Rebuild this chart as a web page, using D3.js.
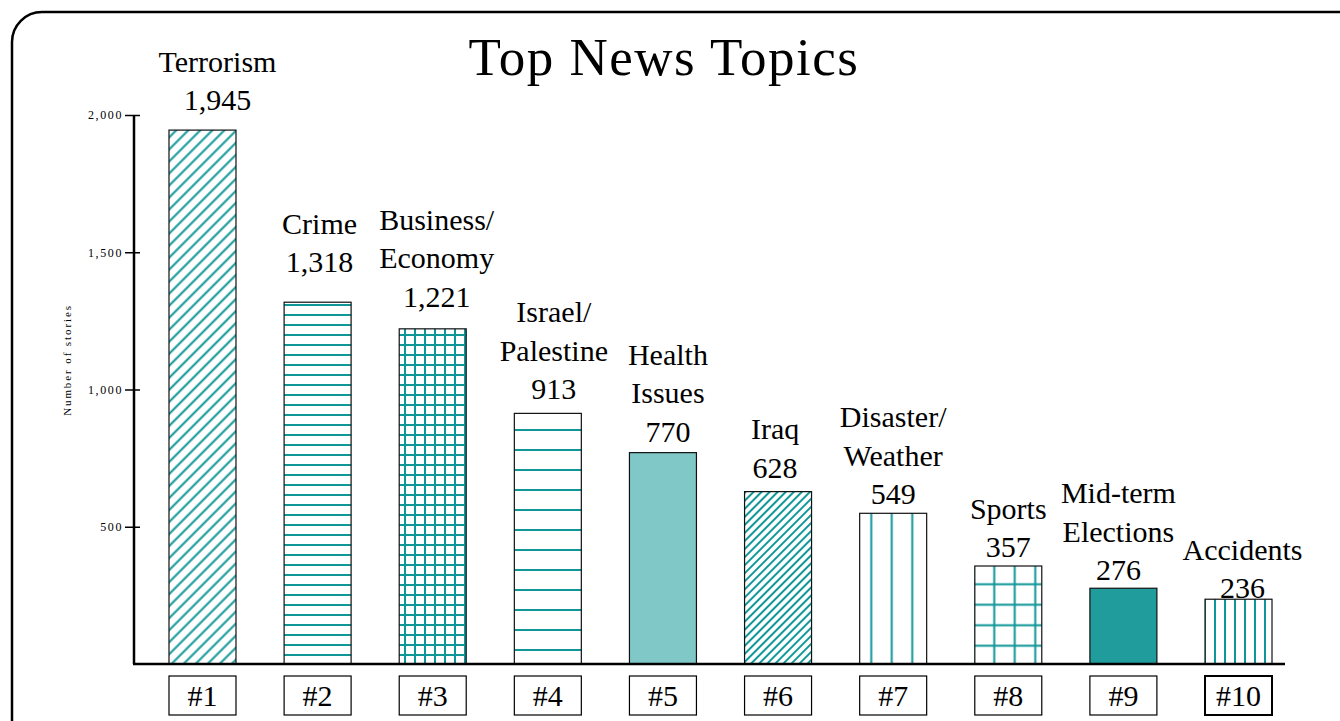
<!DOCTYPE html>
<html lang="en">
<head>
  <meta charset="UTF-8">
  <title>Top News Topics</title>
  <script src="https://d3js.org/d3.v7.min.js"></script>
  <style>
    html, body {
      margin: 0;
      padding: 0;
      overflow: hidden;
      background: #fff;
    }
    svg {
      display: block;
      font-family: "Liberation Serif", "Times New Roman", serif;
    }
  </style>
</head>
<body>
<svg width="1340" height="721"></svg>

<script>
  // data
  const ranks = ["#1", "#2", "#3", "#4", "#5", "#6", "#7", "#8", "#9", "#10"];
  const topics = [
    ["Terrorism"],
    ["Crime"],
    ["Business/", "Economy"],
    ["Israel/", "Palestine"],
    ["Health", "Issues"],
    ["Iraq"],
    ["Disaster/", "Weather"],
    ["Sports"],
    ["Mid-term", "Elections"],
    ["Accidents"]
  ];
  const stories = [1945, 1318, 1221, 913, 770, 628, 549, 357, 276, 236];
  const yTicks = [500, 1000, 1500, 2000];

  // look of each bar and where its label sits (layout, not data)
  const barFills = ["diagWide", "hFine", "gridFine", "hWide", "solidLight",
                    "diagFine", "vWide", "gridWide", "solidDark", "vFine"];
  const labelLift = [30, 40, 32, 24, 21, 24, 19, 19, 18, 11];
  const labelShift = [15, 2, 4, 6, 5, -3, 0, 0, -5, 4];

  const teal = "#0f9697";
  const svg = d3.select("svg");
  const defs = svg.append("defs");

  function linePattern(id, size, opts) {
    const p = defs.append("pattern")
            .attr("id", id)
            .attr("patternUnits", "userSpaceOnUse")
            .attr("width", size)
            .attr("height", size);
    if (opts.rotate) p.attr("patternTransform", "rotate(" + opts.rotate + ")");
    p.append("rect").attr("width", size).attr("height", size).attr("fill", "#fff");
    if (opts.v) {
      p.append("line")
              .attr("x1", size / 2).attr("x2", size / 2)
              .attr("y1", 0).attr("y2", size)
              .attr("stroke", teal).attr("stroke-width", opts.w || 2);
    }
    if (opts.h) {
      p.append("line")
              .attr("x1", 0).attr("x2", size)
              .attr("y1", size / 2).attr("y2", size / 2)
              .attr("stroke", teal).attr("stroke-width", opts.w || 2);
    }
  }

  linePattern("diagWide", 8.5, {v: true, rotate: 45, w: 2});
  linePattern("diagFine", 5.7, {v: true, rotate: 45, w: 2});
  linePattern("hFine", 10, {h: true});
  linePattern("hWide", 20, {h: true});
  linePattern("vFine", 10, {v: true});
  linePattern("vWide", 20.5, {v: true});
  linePattern("gridFine", 10, {h: true, v: true});
  linePattern("gridWide", 20.5, {h: true, v: true});

  const solid = {solidLight: "#80c8c8", solidDark: "#209c9c"};
  const fillOf = k => solid[k] || ("url(#" + k + ")");

  // rounded frame, running off the right and bottom edges
  svg.append("rect")
          .attr("x", 12).attr("y", 12)
          .attr("width", 1360).attr("height", 740)
          .attr("rx", 30).attr("ry", 30)
          .attr("fill", "none")
          .attr("stroke", "#000")
          .attr("stroke-width", 2.5);

  const x = d3.scaleBand()
          .domain(ranks)
          .range([134, 1307])
          .paddingInner(0.418)
          .paddingOuter(0.304);

  const y = d3.scaleLinear()
          .domain([0, 2000])
          .range([664, 115]);

  // title
  svg.append("text")
          .attr("x", 664)
          .attr("y", 75)
          .attr("text-anchor", "middle")
          .attr("font-size", "53px")
          .attr("letter-spacing", "1.5px")
          .text("Top News Topics");

  // y axis
  const yAxis = svg.append("g")
          .attr("transform", "translate(134,0)")
          .call(d3.axisLeft(y)
                  .tickValues(yTicks)
                  .tickSize(9)
                  .tickPadding(2)
                  .tickFormat(d3.format(",")));
  yAxis.select(".domain").remove();
  yAxis.selectAll(".tick line")
          .attr("x2", 6)
          .attr("x1", -9)
          .attr("stroke", "#000")
          .attr("stroke-width", 1.5);
  yAxis.selectAll(".tick text")
          .attr("font-family", "Liberation Serif, serif")
          .attr("font-size", "12px")
          .attr("letter-spacing", "1.6px")
          .attr("fill", "#000");

  svg.append("line")
          .attr("x1", 134).attr("x2", 134)
          .attr("y1", y(2000)).attr("y2", y(0))
          .attr("stroke", "#000")
          .attr("stroke-width", 2.5);

  svg.append("text")
          .attr("transform", "translate(71,360) rotate(-90)")
          .attr("text-anchor", "middle")
          .attr("font-size", "11px")
          .attr("letter-spacing", "1.9px")
          .text("Number of stories");

  // bars
  svg.append("g")
          .selectAll("rect")
          .data(stories)
          .join("rect")
          .attr("x", (d, i) => x(ranks[i]))
          .attr("y", d => y(d))
          .attr("width", x.bandwidth())
          .attr("height", d => y(0) - y(d))
          .attr("fill", (d, i) => fillOf(barFills[i]))
          .attr("stroke", "#111")
          .attr("stroke-width", 1.2);

  // baseline
  svg.append("line")
          .attr("x1", 133).attr("x2", 1285)
          .attr("y1", y(0)).attr("y2", y(0))
          .attr("stroke", "#000")
          .attr("stroke-width", 2.5);

  // labels above bars
  const lineGap = 38.5;
  svg.append("g")
          .selectAll("text")
          .data(stories)
          .join("text")
          .attr("text-anchor", "middle")
          .attr("font-size", "30px")
          .each(function (d, i) {
            const cx = x(ranks[i]) + x.bandwidth() / 2 + labelShift[i];
            const base = y(d) - labelLift[i] + 10;
            const lines = topics[i].concat([d3.format(",")(d)]);
            const n = lines.length;
            d3.select(this).selectAll("tspan")
                    .data(lines)
                    .join("tspan")
                    .attr("x", cx)
                    .attr("y", (t, j) => base - (n - 1 - j) * lineGap)
                    .text(t => t);
          });

  // rank boxes under the axis
  const boxes = svg.append("g")
          .selectAll("g")
          .data(ranks)
          .join("g")
          .attr("transform", d => "translate(" + x(d) + ",676)");

  boxes.append("rect")
          .attr("width", x.bandwidth())
          .attr("height", 39)
          .attr("fill", "#fff")
          .attr("stroke", "#000")
          .attr("stroke-width", (d, i) => i === ranks.length - 1 ? 2 : 1.2);

  boxes.append("text")
          .attr("x", x.bandwidth() / 2)
          .attr("y", 30)
          .attr("text-anchor", "middle")
          .attr("font-size", "30px")
          .text(d => d);
</script>

</body>
</html>
